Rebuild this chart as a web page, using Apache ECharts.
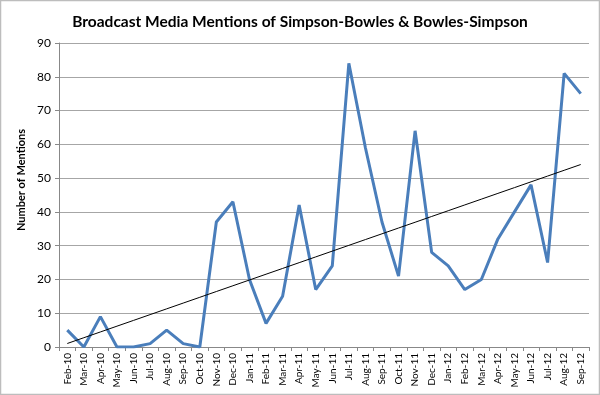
<!DOCTYPE html>
<html><head><meta charset="utf-8">
<script src="https://cdn.jsdelivr.net/npm/echarts@6/dist/echarts.min.js"></script>
<style>html,body{margin:0;padding:0;background:#fff}#c{width:600px;height:395px}</style>
</head><body><div id="c"></div>
<script>
const months = ["Feb-10","Mar-10","Apr-10","May-10","Jun-10","Jul-10","Aug-10","Sep-10","Oct-10","Nov-10","Dec-10","Jan-11","Feb-11","Mar-11","Apr-11","May-11","Jun-11","Jul-11","Aug-11","Sep-11","Oct-11","Nov-11","Dec-11","Jan-12","Feb-12","Mar-12","Apr-12","May-12","Jun-12","Jul-12","Aug-12","Sep-12"];
const mentions = [5,0,9,0,0,1,5,1,0,37,43,20,7,15,42,17,24,84,59,37,21,64,28,24,17,20,32,40,48,25,81,75];
const yTicks = [0,10,20,30,40,50,60,70,80,90];

// linear trendline (least squares) from the data
const n = mentions.length;
let sx=0, sy=0, sxy=0, sxx=0;
mentions.forEach((v,i)=>{sx+=i;sy+=v;sxy+=i*v;sxx+=i*i;});
const slope = (n*sxy - sx*sy)/(n*sxx - sx*sx);
const icpt = (sy - slope*sx)/n;
const trend = mentions.map((v,i)=>+(icpt+slope*i).toFixed(3));

const FONT = 'Lato, "Open Sans", sans-serif';
const chart = echarts.init(document.getElementById('c'), null, {renderer:'canvas'});
chart.setOption({
  animation:false,
  backgroundColor:'#fff',
  title:{text:'Broadcast Media Mentions of Simpson-Bowles & Bowles-Simpson',left:'center',top:9,
    textStyle:{fontFamily:FONT,fontSize:15.5,fontWeight:'bold',color:'#000'}},
  graphic:[
    {type:'rect',shape:{x:0.5,y:0.5,width:599,height:394},style:{fill:'none',stroke:'#bdbdbd',lineWidth:1.5},silent:true},
    {type:'text',x:21,y:180,rotation:Math.PI/2,style:{text:'Number of Mentions',font:'bold 11px Lato, "Open Sans", sans-serif',fill:'#000',textAlign:'center',textVerticalAlign:'middle'},silent:true}
  ],
  grid:{left:59,right:11,top:43,bottom:48},
  xAxis:{type:'category',data:months,boundaryGap:true,
    axisLine:{lineStyle:{color:'#888',width:1}},
    axisTick:{show:true,length:4,lineStyle:{color:'#888'},interval:0},
    axisLabel:{rotate:90,interval:0,fontFamily:FONT,fontSize:10,color:'#000',margin:6}},
  yAxis:{type:'value',min:yTicks[0],max:yTicks[yTicks.length-1],interval:10,
    axisLine:{show:true,lineStyle:{color:'#888'}},
    axisTick:{show:true,length:4,lineStyle:{color:'#888'}},
    axisLabel:{fontFamily:FONT,fontSize:12,color:'#000',margin:8},
    splitLine:{lineStyle:{color:'#a6a6a6',width:1}}},
  series:[
    {type:'line',data:mentions,symbol:'none',lineStyle:{color:'#4a7ebb',width:3},z:3},
    {type:'line',data:trend,symbol:'none',lineStyle:{color:'#000',width:1},z:4}
  ]
});
</script></body></html>
